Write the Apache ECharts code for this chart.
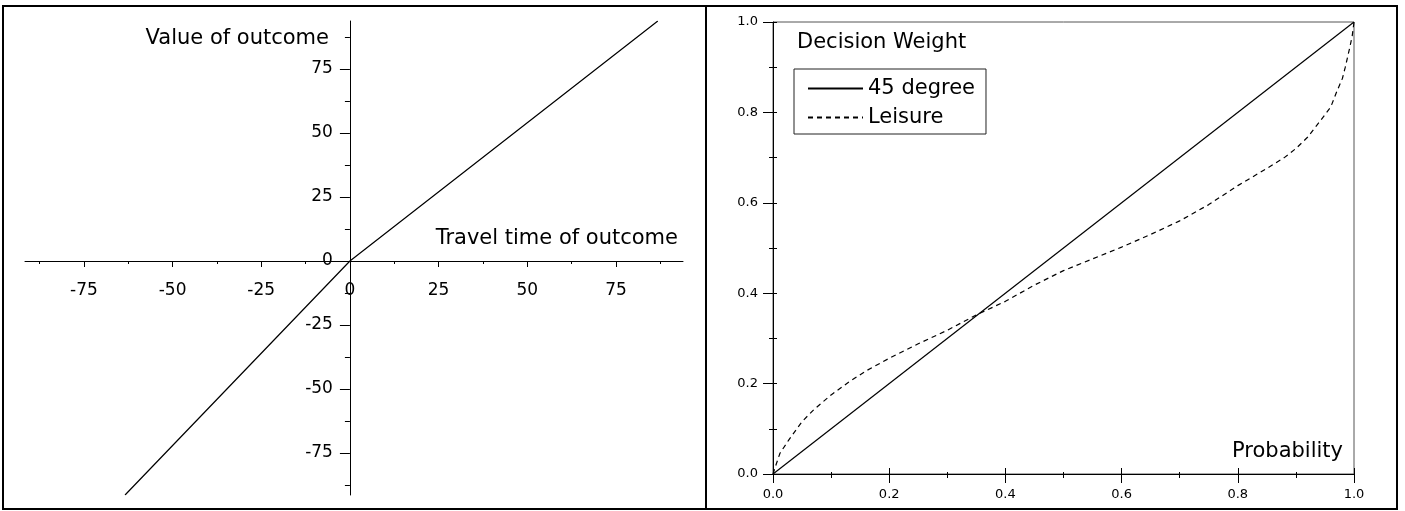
<!DOCTYPE html>
<html>
<head>
<meta charset="utf-8">
<script src="https://cdn.jsdelivr.net/npm/echarts@6.0.0/dist/echarts.min.js"></script>
<style>
html,body{margin:0;padding:0;background:#fff;}
#chart{width:1405px;height:511px;}
</style>
</head>
<body>
<div id="chart"></div>
<script>
// ---------- data ----------
const valueTicks = [-75, -50, -25, 0, 25, 50, 75];
const valueMinorTicks = [-87.5, -62.5, -37.5, -12.5, 12.5, 37.5, 62.5, 87.5];
const travelTime = [-63.4, 0, 86.8];
const outcomeValue = [-91.4, 0, 93.75];

const legendNames = ['45 degree', 'Leisure'];
const diagonalP = [0, 1];
const diagonalW = [0, 1];
const leisureP = [0, 0.004, 0.012, 0.027, 0.05, 0.07, 0.1, 0.13, 0.16, 0.2, 0.25, 0.3, 0.35, 0.4, 0.45, 0.5, 0.55, 0.6, 0.65, 0.7, 0.75, 0.8, 0.85, 0.88, 0.9, 0.92, 0.94, 0.96, 0.97, 0.98, 0.985, 0.993, 0.997, 1.0];
const leisureW = [0, 0.016, 0.046, 0.075, 0.116, 0.142, 0.175, 0.203, 0.228, 0.256, 0.288, 0.318, 0.352, 0.382, 0.418, 0.45, 0.476, 0.502, 0.53, 0.56, 0.596, 0.638, 0.676, 0.70, 0.72, 0.745, 0.778, 0.812, 0.845, 0.875, 0.9, 0.945, 0.97, 1.0];

const leftTitleY = 'Value of outcome';
const leftTitleX = 'Travel time of outcome';
const rightTitleY = 'Decision Weight';
const rightTitleX = 'Probability';

// ---------- layout ----------
const FONT = 'DejaVu Sans';
const BLACK = '#000';
const LINE_W = 1.2;
const LG = {left: 25, top: 21, width: 658, height: 474};
const LX = {min: -91.6, max: 93.9};
const LY = {min: -91.4, max: 93.75};
// place the left panel's axes through the origin while keeping labels beside them
const yAxisOffset = -LG.width * (0 - LX.min) / (LX.max - LX.min);
const xAxisOffset = -LG.height * (0 - LY.min) / (LY.max - LY.min);

const zip = (a, b) => a.map((v, i) => [v, b[i]]);
const fmt1 = v => Number(v).toFixed(1);

const chart = echarts.init(document.getElementById('chart'), null, {renderer: 'canvas'});

const option = {
  animation: false,
  backgroundColor: '#fff',
  grid: [
    {left: LG.left, top: LG.top, width: LG.width, height: LG.height, show: false, containLabel: false, outerBoundsMode: 'none'},
    {left: 773, top: 22, width: 581, height: 452, show: true, borderColor: '#555', borderWidth: 1, backgroundColor: 'transparent', containLabel: false, outerBoundsMode: 'none'}
  ],
  xAxis: [
    {
      gridIndex: 0, type: 'value', min: LX.min, max: LX.max, position: 'bottom', offset: xAxisOffset,
      axisLine: {show: true, onZero: false, lineStyle: {color: BLACK, width: 1}},
      axisTick: {show: true, customValues: valueTicks, length: 6, lineStyle: {color: BLACK, width: 1}},
      axisLabel: {show: true, customValues: valueTicks, margin: 21, fontSize: 17, fontFamily: FONT, color: BLACK},
      splitLine: {show: false}
    },
    {
      gridIndex: 0, type: 'value', min: LX.min, max: LX.max, position: 'bottom', offset: xAxisOffset,
      axisLine: {show: false, onZero: false},
      axisTick: {show: true, customValues: valueMinorTicks, length: 3, lineStyle: {color: BLACK, width: 1}},
      axisLabel: {show: false},
      splitLine: {show: false}
    },
    {
      gridIndex: 1, type: 'value', min: 0, max: 1, interval: 0.2, position: 'bottom',
      axisLine: {show: true, onZero: false, lineStyle: {color: BLACK, width: 1}},
      axisTick: {show: true, length: 9, lineStyle: {color: BLACK, width: 1}},
      minorTick: {show: true, splitNumber: 2, length: 4, lineStyle: {color: BLACK, width: 1}},
      axisLabel: {show: true, margin: 14, fontSize: 13, fontFamily: FONT, color: BLACK, formatter: fmt1},
      splitLine: {show: false}, minorSplitLine: {show: false}
    },
    {
      gridIndex: 1, type: 'value', min: 0, max: 1, interval: 0.2, position: 'bottom',
      axisLine: {show: false, onZero: false},
      axisTick: {show: true, inside: true, length: 6, lineStyle: {color: BLACK, width: 1}},
      minorTick: {show: true, splitNumber: 2, length: 2, lineStyle: {color: BLACK, width: 1}},
      axisLabel: {show: false},
      splitLine: {show: false}, minorSplitLine: {show: false}
    }
  ],
  yAxis: [
    {
      gridIndex: 0, type: 'value', min: LY.min, max: LY.max, position: 'left', offset: yAxisOffset,
      axisLine: {show: true, onZero: false, lineStyle: {color: BLACK, width: 1}},
      axisTick: {show: true, customValues: valueTicks, length: 10, lineStyle: {color: BLACK, width: 1}},
      axisLabel: {show: true, customValues: valueTicks, margin: 17, fontSize: 17, fontFamily: FONT, color: BLACK},
      splitLine: {show: false}
    },
    {
      gridIndex: 0, type: 'value', min: LY.min, max: LY.max, position: 'left', offset: yAxisOffset,
      axisLine: {show: false, onZero: false},
      axisTick: {show: true, customValues: valueMinorTicks, length: 5, lineStyle: {color: BLACK, width: 1}},
      axisLabel: {show: false},
      splitLine: {show: false}
    },
    {
      gridIndex: 1, type: 'value', min: 0, max: 1, interval: 0.2, position: 'left',
      axisLine: {show: true, onZero: false, lineStyle: {color: BLACK, width: 1}},
      axisTick: {show: true, length: 10, lineStyle: {color: BLACK, width: 1}},
      minorTick: {show: true, splitNumber: 2, length: 4, lineStyle: {color: BLACK, width: 1}},
      axisLabel: {show: true, margin: 15, fontSize: 13, fontFamily: FONT, color: BLACK, formatter: fmt1},
      splitLine: {show: false}, minorSplitLine: {show: false}
    },
    {
      gridIndex: 1, type: 'value', min: 0, max: 1, interval: 0.2, position: 'left',
      axisLine: {show: false, onZero: false},
      axisTick: {show: true, inside: true, length: 4, lineStyle: {color: BLACK, width: 1}},
      minorTick: {show: true, splitNumber: 2, length: 4, lineStyle: {color: BLACK, width: 1}},
      axisLabel: {show: false},
      splitLine: {show: false}, minorSplitLine: {show: false}
    }
  ],
  legend: {
    data: legendNames,
    orient: 'vertical',
    left: 794, top: 69,
    padding: [9, 11, 6, 13],
    itemWidth: 55, itemHeight: 14, itemGap: 8,
    borderColor: '#222', borderWidth: 1,
    backgroundColor: '#fff',
    selectedMode: false,
    itemStyle: {opacity: 0},
    textStyle: {fontSize: 21, fontFamily: FONT, color: BLACK}
  },
  graphic: [
    {type: 'rect', silent: true, z: 100, shape: {x: 3, y: 6, width: 1394, height: 503},
     style: {fill: 'none', stroke: BLACK, lineWidth: 2}},
    {type: 'line', silent: true, z: 100, shape: {x1: 706, y1: 6, x2: 706, y2: 509},
     style: {stroke: BLACK, lineWidth: 2}},
    {type: 'text', silent: true, x: 329, y: 38.5,
     style: {text: leftTitleY, font: '21px "DejaVu Sans"', fill: BLACK, align: 'right', verticalAlign: 'middle'}},
    {type: 'text', silent: true, x: 678, y: 239,
     style: {text: leftTitleX, font: '21px "DejaVu Sans"', fill: BLACK, align: 'right', verticalAlign: 'middle'}},
    {type: 'text', silent: true, x: 797, y: 42.5,
     style: {text: rightTitleY, font: '21px "DejaVu Sans"', fill: BLACK, align: 'left', verticalAlign: 'middle'}},
    {type: 'text', silent: true, x: 1343, y: 451.5,
     style: {text: rightTitleX, font: '21px "DejaVu Sans"', fill: BLACK, align: 'right', verticalAlign: 'middle'}}
  ],
  series: [
    {
      type: 'line', xAxisIndex: 0, yAxisIndex: 0,
      data: zip(travelTime, outcomeValue),
      symbol: 'none', lineStyle: {color: BLACK, width: LINE_W}, itemStyle: {color: BLACK}, silent: true
    },
    {
      name: legendNames[0], type: 'line', xAxisIndex: 2, yAxisIndex: 2,
      data: zip(diagonalP, diagonalW),
      symbol: 'none', lineStyle: {color: BLACK, width: LINE_W, type: 'solid'}, itemStyle: {color: BLACK}, silent: true
    },
    {
      name: legendNames[1], type: 'line', xAxisIndex: 2, yAxisIndex: 2,
      data: zip(leisureP, leisureW),
      symbol: 'none', lineStyle: {color: BLACK, width: LINE_W, type: [5, 4]}, itemStyle: {color: BLACK}, silent: true
    }
  ]
};
chart.setOption(option);
</script>
</body>
</html>
